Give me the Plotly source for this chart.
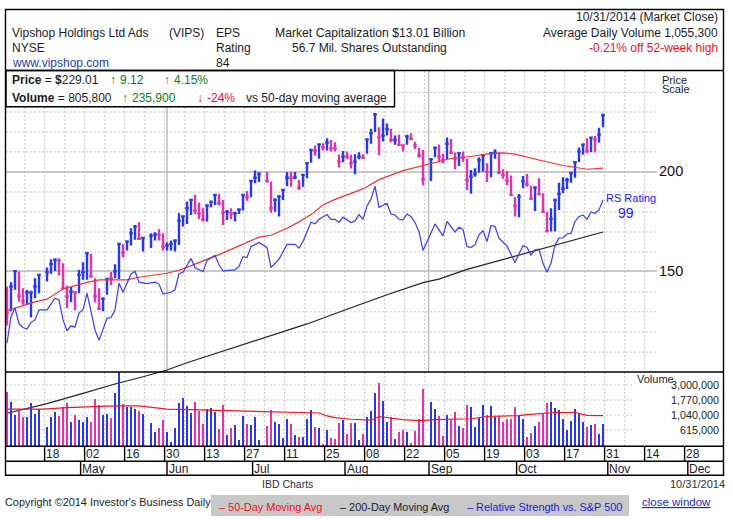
# Vipshop (VIPS) daily chart, IBD style
import math
import plotly.graph_objects as go

# trading day index 0..149, None = market holiday
highs = [
    143.4, 145.2, 150.2, 149.8, 142.7, 142.0, 141.6, 146.9, 148.6, None,
    151.5, 155.2, 155.7, 155.7, 153.4, 143.7, 143.4, 141.3, 150.5, 153.9,
    158.4, 157.6, 146.9, 142.7, 139.0, 146.9, 149.5, 153.0, 162.6, 162.1,
    163.9, 169.8, 171.5, 172.8, 165.4, None, 167.4, 167.9, 169.3, 167.4,
    162.9, 163.9, 164.5, 177.4, 176.2, 183.5, 184.9, 187.1, 183.0, 180.0,
    182.0, 183.9, 187.5, 187.6, 184.4, 179.1, 180.0, 178.2, 180.0, 187.5,
    189.3, 195.4, 200.8, 199.8, None, 200.0, 194.5, 185.3, 187.1, 190.4,
    200.0, 200.0, 200.0, 195.4, 198.7, 205.8, 213.6, 216.0, 217.4, 217.4,
    220.6, 219.5, 218.0, 210.3, 212.6, 212.2, 210.2, 210.6, 211.8, 210.6,
    220.6, 226.7, 237.2, 227.8, 233.7, 230.2, 226.7, 222.3, 222.8, 216.7,
    222.8, 223.9, 218.4, 214.6, 213.2, None, 208.0, 214.8, 216.7, 210.8,
    221.0, 220.1, 211.6, 211.8, 212.2, 207.9, 201.2, 202.2, 208.8, 210.6,
    205.2, 211.8, 213.6, 211.8, 201.6, 200.6, 197.9, 185.9, 187.6, 197.7,
    198.8, 192.2, 191.9, 196.4, 188.0, 178.2, 180.0, 184.8, 193.9, 196.9,
    196.7, 199.8, 206.0, 214.8, 217.4, 220.6, 221.7, 222.1, 227.5, 236.5,
]
lows = [
    128.0, 133.4, 142.0, 137.2, 136.0, 136.0, 131.0, 138.6, 140.6, None,
    145.5, 148.8, 150.0, 148.0, 142.3, 134.7, 137.0, 133.8, 140.6, 146.2,
    146.2, 147.3, 137.0, 134.0, 133.4, 140.0, 144.0, 146.9, 146.5, 156.1,
    159.2, 161.5, 164.2, 164.5, 158.7, None, 160.4, 163.9, 163.9, 159.2,
    159.2, 159.2, 158.7, 161.8, 170.7, 172.0, 176.5, 177.0, 174.5, 173.2,
    173.2, 180.5, 181.7, 181.4, 171.5, 174.0, 174.5, 173.2, 177.0, 178.8,
    184.0, 185.9, 193.5, 194.2, None, 194.0, 177.7, 178.2, 175.7, 184.4,
    191.9, 191.6, 195.8, 189.8, 191.6, 196.4, 205.5, 209.6, 207.9, 212.8,
    212.8, 212.2, 212.2, 202.6, 205.7, 207.7, 202.1, 198.7, 207.5, 207.7,
    210.8, 217.1, 224.6, 210.0, 218.5, 222.3, 218.0, 216.4, 216.0, 212.2,
    216.4, 219.5, 213.8, 208.5, 192.5, None, 194.8, 208.8, 205.7, 205.2,
    207.5, 210.6, 201.6, 203.5, 206.1, 189.8, 187.8, 197.3, 199.6, 200.2,
    194.2, 196.9, 207.9, 198.8, 196.1, 192.5, 186.6, 175.7, 175.3, 190.7,
    191.6, 184.4, 178.6, 186.8, 177.7, 167.7, 168.2, 168.2, 179.1, 188.0,
    190.3, 193.9, 196.7, 205.9, 210.2, 211.2, 211.8, 211.6, 217.9, 227.8,
]
closes = [
    132.7, 143.4, 149.9, 139.5, 137.2, 140.9, 140.9, 143.4, 148.3, None,
    149.4, 153.0, 155.0, 154.6, 142.7, 139.3, 141.3, 141.0, 148.3, 149.4,
    158.0, 147.6, 139.5, 134.4, 138.3, 146.6, 146.9, 149.8, 162.3, 158.3,
    163.4, 167.4, 170.7, 164.7, 165.1, None, 166.1, 166.8, 166.6, 161.0,
    161.5, 162.3, 163.9, 173.7, 175.7, 180.0, 184.4, 178.8, 177.4, 174.3,
    181.4, 183.5, 187.1, 182.6, 177.7, 178.2, 177.4, 177.4, 179.3, 187.1,
    186.0, 194.9, 196.7, 198.8, None, 194.6, 180.0, 184.4, 186.2, 189.8,
    196.7, 196.7, 196.9, 191.2, 198.3, 205.2, 213.2, 212.6, 216.7, 214.9,
    217.9, 214.2, 214.2, 206.1, 209.1, 209.1, 205.2, 206.1, 209.1, 208.5,
    219.9, 223.8, 236.5, 221.0, 222.3, 226.4, 219.5, 219.5, 216.4, 216.0,
    221.7, 220.1, 216.0, 209.8, 195.9, None, 207.6, 214.6, 209.1, 207.1,
    217.0, 211.6, 208.0, 211.2, 208.6, 195.4, 197.3, 198.8, 207.1, 209.8,
    200.2, 211.2, 211.6, 199.6, 198.3, 194.9, 187.1, 181.2, 186.2, 194.6,
    192.9, 185.1, 191.2, 187.5, 178.2, 168.4, 174.5, 184.4, 187.6, 190.5,
    195.4, 199.4, 205.7, 212.2, 216.4, 212.6, 221.0, 219.9, 223.0, 236.0,
]
# volume in thousands of shares
volumes = [
    2373, 1640, 1044, 1288, 985, 985, 1573, 1069, 1288, None,
    686, 985, 1155, 1007, 1368, 1590, 816, 1056, 878, 806,
    985, 806, 1860, 1470, 1044, 1069, 929, 2240, 4800, 1515,
    1400, 1400, 1305, 1200, 1082, None, 780, 582, 670, 878,
    575, 400, 662, 1573, 1896, 1440, 1130, 1650, 1215, 762,
    1272, 1335, 1155, 647, 1500, 510, 670, 727, 433, 1007,
    752, 735, 974, 428, None, 708, 1240, 816, 771, 465,
    908, 752, 517, 480, 480, 908, 1240, 686, 662, 378,
    610, 472, 447, 790, 878, 534, 780, 800, 428, 534,
    974, 1185, 2240, 3180, 1710, 806, 985, 447, 582, 623,
    582, 394, 597, 908, 2590, None, 1640, 1272, 1020, 500,
    1044, 878, 1155, 708, 654, 1485, 1385, 694, 929, 1485,
    1044, 1440, 960, 1020, 826, 908, 918, 1400, 1020, 908,
    480, 545, 718, 816, 1095, 1615, 1670, 1335, 1240, 908,
    617, 850, 1305, 1082, 806, 686, 727, 771, 534, 770,
]
# B = up day, M = down day, - = holiday
day_colors = (
    "MBBMMBBBB-" "BBBMMMBMBB" "BMMMBBMBBM" "BBBMB-BBMM" "BBBBBBBMMM"
    "BBBMMBMBBB" "MBBB-MMBBB" "BMBMBBBMBM" "BMMMBMMBBM" "BBBMBBMBMM"
    "BMMMM-BBMM" "BMMBMMBBBB" "MBBMMMMMBB" "MMBMMMBBBB" "BBBBBMBMBB"
)

ma50_days = [0, 7, 10, 14, 20, 23, 30, 33, 40, 43, 47, 53, 60, 63, 66, 70, 73, 76, 79, 82,
             89, 93, 99, 104, 106, 111, 116, 120, 124, 127, 133, 139, 145, 149]
ma50_values = [133.7, 137.1, 138.2, 142.3, 145.1, 146.2, 146.2, 147.3, 149.0, 150.3, 153.0, 157.3,
               163.0, 165.5, 166.4, 169.8, 173.0, 176.7, 181.7, 184.7, 190.4, 195.6, 200.8, 203.8,
               205.2, 208.0, 209.2, 210.8, 211.4, 210.6, 207.1, 203.8, 201.6, 202.2]

ma200_days = [0, 10, 19, 27, 34, 40, 45, 50, 53, 60, 65, 75, 85, 95, 104, 108, 115, 125, 135, 145, 149]
ma200_values = [99.2, 102.0, 105.1, 108.0, 110.3, 112.5, 114.9, 117.1, 118.4, 121.7, 123.9, 128.6,
                134.2, 140.0, 145.0, 146.5, 150.7, 155.6, 160.5, 165.6, 168.0]

rs_days = [0, 1, 2, 3, 4, 5, 6, 7, 8, 10, 12, 13, 14, 15, 16, 17, 18, 19, 20, 22, 23, 25, 26, 27, 28,
           29, 31, 32, 33, 35, 37, 38, 39, 41, 42, 43, 44, 46, 47, 49, 50, 51, 52, 53, 54, 57, 58, 59,
           60, 61, 63, 65, 66, 68, 69, 70, 72, 73, 74, 76, 77, 78, 80, 81, 82, 83, 84, 86, 87, 88, 89,
           90, 91, 92, 93, 95, 96, 97, 98, 99, 100, 101, 102, 103, 104, 105, 106, 107, 109, 110, 112,
           113, 114, 115, 116, 117, 118, 119, 120, 121, 122, 123, 125, 127, 129, 130, 131, 132, 133,
           134, 135, 136, 137, 138, 139, 140, 141, 142, 143, 144, 145, 146, 147, 148, 149]
rs_values = [121.6, 131.4, 134.7, 128.6, 127.3, 126.7, 129.2, 130.1, 134.0, 134.0, 138.6, 137.9,
             130.1, 126.1, 127.9, 127.4, 132.7, 134.0, 140.6, 126.4, 122.6, 130.7, 131.0, 134.0,
             144.8, 141.0, 148.6, 149.9, 145.2, 144.6, 145.2, 144.4, 140.3, 141.0, 142.0, 148.8,
             149.4, 155.5, 151.5, 149.7, 154.6, 155.7, 156.9, 152.7, 150.0, 150.5, 152.0, 156.4,
             156.0, 161.0, 163.0, 160.6, 151.5, 155.2, 158.7, 162.1, 162.1, 160.3, 163.4, 172.8,
             172.0, 174.3, 176.7, 174.3, 174.3, 172.7, 175.4, 172.7, 173.5, 176.7, 174.3, 181.2,
             184.8, 191.9, 180.5, 182.6, 177.0, 176.5, 174.3, 174.0, 177.0, 175.7, 172.7, 168.2,
             159.2, 163.4, 167.0, 172.0, 166.1, 173.2, 168.0, 170.3, 169.3, 161.0, 160.7, 161.8,
             166.6, 168.7, 163.4, 171.2, 170.7, 165.0, 161.3, 153.7, 161.5, 160.6, 157.1, 159.5,
             159.8, 153.4, 149.4, 153.4, 161.8, 165.0, 165.2, 167.0, 167.3, 173.2, 175.7, 176.4,
             174.3, 178.1, 177.4, 179.1, 184.4]

vol_ma_days = [0, 9, 15, 23, 27, 33, 40, 48, 53, 63, 72, 78, 80, 82, 86, 91, 93, 99, 103, 107, 116, 120, 128, 130, 137, 142, 145, 149]
vol_ma_values = [1288, 1288, 1355, 1420, 1437, 1437, 1288, 1250, 1230, 1180, 1140, 1120, 1010, 950,
                 900, 870, 990, 890, 855, 890, 915, 990, 1020, 1060, 1140, 1140, 1030, 1020]

week_ticks = [9.4, 19.4, 29.4, 39.4, 49.4, 59.4, 69.4, 79.4, 89.4, 99.4, 109.4, 119.4, 129.4, 139.4, 149.4, 159.4, 169.4]
week_labels = ["18", "02", "16", "30", "13", "27", "11", "25", "08", "22", "05", "19", "03", "17", "31", "14", "28"]
month_ticks = [18.4, 40.0, 61.4, 84.5, 105.5, 127.4, 150.2, 170.2]
month_labels = ["May", "Jun", "Jul", "Aug", "Sep", "Oct", "Nov", "Dec"]

price_grid = [252.0, 238.1, 224.7, 212.0, 188.7, 178.0, 168.0, 158.5, 141.1, 133.2, 125.6, 118.5]
price_major = [200, 150]
volume_grid = [3000000, 1770000, 1040000, 615000]
volume_grid_labels = ["3,000,000", "1,770,000", "1,040,000", "615,000"]

# colours
blue = "#2838ee"
magenta = "#e432ac"
rs_blue = "#3c3cf0"
ma_red = "#f23232"
text_col = "#1c1c28"
grid_col = "#c8c8c8"
major_col = "#b8b8b8"
FONT = "Liberation Sans"
W, H = 733, 520


def px(x):
    return x / W


def py(y):
    return 1 - y / H


fig = go.Figure()

for code, color in (("B", blue), ("M", magenta)):
    days = [i for i, c in enumerate(day_colors) if c == code]
    fig.add_trace(go.Ohlc(
        x=days,
        open=[closes[i] for i in days],
        high=[highs[i] for i in days],
        low=[lows[i] for i in days],
        close=[closes[i] for i in days],
        tickwidth=0.45,
        increasing=dict(line=dict(color=color, width=2.4)),
        decreasing=dict(line=dict(color=color, width=2.4)),
    ))

fig.add_trace(go.Scatter(x=ma200_days, y=ma200_values, mode="lines", line=dict(color="#222222", width=1.2)))
fig.add_trace(go.Scatter(x=ma50_days, y=ma50_values, mode="lines", line=dict(color=ma_red, width=1.2)))
fig.add_trace(go.Scatter(x=rs_days, y=rs_values, mode="lines", line=dict(color=rs_blue, width=1.2)))

vol_days = [i for i, v in enumerate(volumes) if v is not None]
fig.add_trace(go.Bar(
    x=vol_days,
    y=[volumes[i] * 1000 for i in vol_days],
    width=0.6,
    marker=dict(color=[blue if day_colors[i] == "B" else magenta for i in vol_days], line=dict(width=0)),
    yaxis="y2",
))
fig.add_trace(go.Scatter(
    x=vol_ma_days, y=[v * 1000 for v in vol_ma_values], mode="lines",
    line=dict(color="#f01818", width=1.2), yaxis="y2",
))

shapes = []


def line(x0, y0, x1, y1, xref="paper", yref="paper", color="black", width=1.4, dash=None, layer="above"):
    shapes.append(dict(type="line", x0=x0, y0=y0, x1=x1, y1=y1, xref=xref, yref=yref, layer=layer,
                       line=dict(color=color, width=width, dash=dash)))


# grid
for k in range(32):
    d = 4.4 + 5 * k
    line(d, py(71), d, py(372), xref="x", color=grid_col, width=1, dash="2px,2px", layer="below")
    if d < 155:
        line(d, py(372), d, py(446), xref="x", color=grid_col, width=1, dash="2px,2px", layer="below")
for v in price_grid:
    line(px(6), v, px(657), v, yref="y", color=grid_col, width=1, dash="2px,2px", layer="below")
for v in volume_grid:
    line(px(6), v, px(633), v, yref="y2", color=grid_col, width=1, dash="2px,2px", layer="below")
for v in price_major:
    line(px(6), v, px(657), v, yref="y", color=major_col, width=1.4, layer="below")
for d in (40, 105.4):
    line(d, py(71), d, py(372), xref="x", color=major_col, width=1.4, layer="below")
# price box hides the grid behind it
shapes.append(dict(type="rect", x0=px(6), x1=px(394.5), y0=py(106.7), y1=py(70.5), xref="paper", yref="paper",
                   fillcolor="white", layer="below", line=dict(color="black", width=1.4)))

# frame
shapes.append(dict(type="rect", x0=px(5.5), x1=px(723.5), y0=py(475.3), y1=py(9.5), xref="paper", yref="paper",
                   layer="above", line=dict(color="black", width=1.4)))
line(px(5.5), py(70.5), px(723.5), py(70.5))
line(px(5.5), py(372), px(723.5), py(372))
line(px(5.5), py(446.3), px(723.5), py(446.3))
line(px(5.5), py(461.3), px(723.5), py(461.3))
for d in week_ticks:
    line(d, py(446.3), d, py(461.3), xref="x")
for d in month_ticks:
    line(d, py(461.3), d, py(475.3), xref="x")

# grey legend strip
shapes.append(dict(type="rect", x0=px(211), x1=px(629), y0=py(516), y1=py(495), xref="paper", yref="paper",
                   fillcolor="#c8c8c8", layer="below", line=dict(width=0)))

annotations = []


def label(text, x, y, size=12, color=text_col, anchor="left", xref="paper"):
    annotations.append(dict(
        text=text, x=px(x) if xref == "paper" else x, y=py(y), xref=xref, yref="paper",
        xanchor=anchor, yanchor="middle", showarrow=False, align=anchor,
        font=dict(family=FONT, size=size, color=color), borderpad=0, borderwidth=0,
    ))


green = "#0a7a10"
red = "#f01020"
label("Vipshop Holdings Ltd Ads", 12, 32.5)
label("(VIPS)", 169, 32.5)
label("EPS", 216, 32.5)
label("Market Capitalization $13.01 Billion", 275, 32.5, size=12.2)
label("NYSE", 12, 48)
label("Rating", 216, 48)
label("56.7 Mil. Shares Outstanding", 292, 48)
label("www.vipshop.com", 12, 63, color="#2a3cb0")
label("84", 216, 63)
label("10/31/2014 (Market Close)", 718, 17.5, anchor="right")
label("Average Daily Volume 1,055,300", 718, 32.5, anchor="right")
label("-0.21% off 52-week high", 718, 48, color=red, anchor="right")

label("<b>Price</b> = <b>$</b>229.01", 12, 80)
label("<b>↑</b>", 110, 80, color=green)
label("9.12", 120, 80, color=green)
label("<b>↑</b>", 164, 80, color=green)
label("4.15%", 174, 80, color=green)
label("<b>Volume</b> = 805,800", 12, 97.5)
label("<b>↑</b>", 122, 97.5, color=green)
label("235,900", 132, 97.5, color=green)
label("<b>↓</b>", 197, 97.5, color=red)
label("-24%", 207, 97.5, color=red)
label("vs 50-day moving average", 246, 97.5)

label("Price", 662, 79.5, size=11)
label("Scale", 662, 88.5, size=11)
label("200", 659, 171, size=14.5, color="#101018")
label("150", 659, 271, size=14.5, color="#101018")
label("RS Rating", 606, 198, size=11, color="#2020f0")
label("99", 618, 213, size=14, color="#2020f0")

label("Volume", 637, 378.5, size=11)
for y, t in zip((385, 400, 415, 430), volume_grid_labels):
    label(t, 719, y, size=10.8, anchor="right")

for d, t in zip(week_ticks, week_labels):
    label(t, d + 0.4, 454, size=12, xref="x")
for d, t in zip(month_ticks, month_labels):
    label(t, d + 0.4, 469, size=12, xref="x")

label("IBD Charts", 287, 484, size=10.5, color="#303038", anchor="center")
label("10/31/2014", 725, 484, size=11, color="#303038", anchor="right")
label("Copyright ©2014 Investor's Business Daily", 5, 502, size=10.9)
label("– 50-Day Moving Avg", 219, 507, size=10.9, color="#f01020")
label("– 200-Day Moving Avg", 340, 507, size=10.9)
label("– Relative Strength vs. S&P 500", 467, 507, size=10.9, color="#1a1ae0")
label("<u>close window</u>", 642, 502, size=11.5, color="#1a2ac0")

fig.update_layout(
    width=W, height=H,
    margin=dict(l=0, r=0, t=0, b=0),
    paper_bgcolor="white", plot_bgcolor="rgba(0,0,0,0)",
    showlegend=False,
    shapes=shapes,
    annotations=annotations,
    bargap=0,
    xaxis=dict(domain=[px(6), px(723)], range=[-0.25, 179], visible=False, fixedrange=True,
               rangeslider=dict(visible=False)),
    yaxis=dict(domain=[py(446), py(71)], type="log", range=[math.log10(90.2), math.log10(268.2)],
               visible=False, fixedrange=True),
    yaxis2=dict(domain=[py(446), py(372)], type="log", range=[math.log10(351000), math.log10(4740000)],
                visible=False, fixedrange=True, anchor="x"),
)

# the browser's default body margin would push the figure off the window
fig.write_html("out.html", config=dict(displayModeBar=False), post_script="document.body.style.margin='0';")
